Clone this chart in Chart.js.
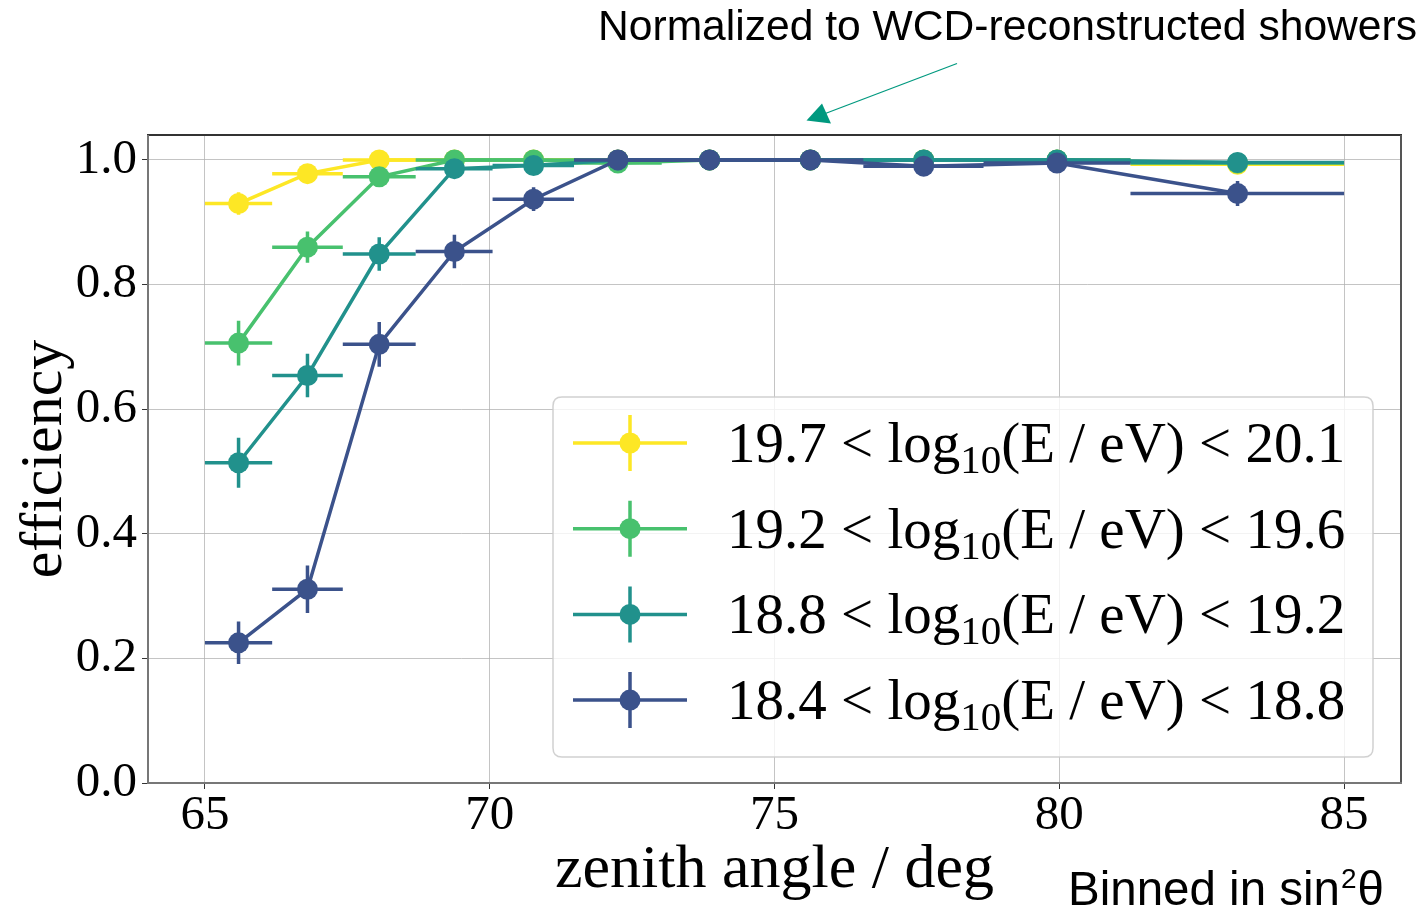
<!DOCTYPE html>
<html>
<head>
<meta charset="utf-8">
<script src="https://cdn.jsdelivr.net/npm/chart.js@4"></script>
<style>
  html, body { margin: 0; padding: 0; background: #ffffff; }
  #wrap { width: 1422px; height: 911px; position: relative; }
</style>
</head>
<body>
<div id="wrap"><canvas id="c" width="1422" height="911"></canvas></div>
<script>
// Zenith-angle bins (equal width in sin^2 theta), edges and centres in degrees
const binEdges   = [65.00, 66.18, 67.42, 68.70, 70.05, 71.48, 73.02, 74.70, 76.56, 78.67, 81.25, 85.00];
const binCenters = [65.59, 66.80, 68.06, 69.38, 70.77, 72.25, 73.86, 75.63, 77.62, 79.96, 83.13];

// Efficiency per energy bin
const eff_197_201 = [0.930, 0.978, 1.000, 1.000, 1.000, 1.000, 1.000, 1.000, 1.000, 1.000, 0.993];
const eff_192_196 = [0.706, 0.860, 0.973, 1.000, 1.000, 0.995, 1.000, 1.000, 1.000, 1.000, 0.995];
const eff_188_192 = [0.514, 0.654, 0.849, 0.986, 0.991, 1.000, 1.000, 1.000, 1.000, 1.000, 0.996];
const eff_184_188 = [0.225, 0.311, 0.704, 0.853, 0.937, 1.000, 1.000, 1.000, 0.990, 0.995, 0.946];

// Statistical uncertainties (half-lengths)
const err_197_201 = [0.018, 0.008, 0.003, 0, 0, 0, 0, 0, 0, 0, 0.004];
const err_192_196 = [0.036, 0.025, 0.012, 0.002, 0, 0.004, 0, 0, 0, 0, 0.004];
const err_188_192 = [0.040, 0.035, 0.027, 0.007, 0.005, 0, 0, 0, 0, 0, 0.004];
const err_184_188 = [0.034, 0.038, 0.036, 0.027, 0.019, 0, 0, 0, 0.005, 0.004, 0.020];

// Energy ranges (log10(E / eV)) and series colours (viridis)
const energyLow  = ['19.7', '19.2', '18.8', '18.4'];
const energyHigh = ['20.1', '19.6', '19.2', '18.8'];
const colors     = ['#fde725', '#48c16e', '#21918c', '#3b528b'];

// Axis ticks
const xTickValues = [65, 70, 75, 80, 85];
const yTickValues = [0.0, 0.2, 0.4, 0.6, 0.8, 1.0];

const seriesValues = [eff_197_201, eff_192_196, eff_188_192, eff_184_188];
const seriesErrors = [err_197_201, err_192_196, err_188_192, err_184_188];

const SERIF = '"Liberation Serif", "Times New Roman", serif';
const SANS  = '"Liberation Sans", Arial, sans-serif';

const datasets = seriesValues.map((vals, s) => ({
  label: energyLow[s] + ' < log10(E / eV) < ' + energyHigh[s],
  data: vals.map((v, i) => ({
    x: binCenters[i], y: v,
    xLo: binEdges[i], xHi: binEdges[i + 1],
    err: seriesErrors[s][i]
  })),
  borderColor: colors[s],
  backgroundColor: colors[s],
  borderWidth: 3.5,
  pointRadius: 10.5,
  pointHoverRadius: 10.5,
  pointBorderWidth: 0,
  tension: 0,
  fill: false,
  order: 4 - s,
  clip: false
}));

// Horizontal (bin width) and vertical (uncertainty) bars, drawn under each series
const errorBars = {
  id: 'errorBars',
  beforeDatasetDraw(chart, args) {
    const ds = chart.data.datasets[args.index];
    const xs = chart.scales.x, ys = chart.scales.y;
    const ctx = chart.ctx;
    ctx.save();
    ctx.strokeStyle = ds.borderColor;
    ctx.lineWidth = 3.5;
    ctx.lineCap = 'butt';
    ds.data.forEach(p => {
      const px = xs.getPixelForValue(p.x);
      const py = ys.getPixelForValue(p.y);
      ctx.beginPath();
      ctx.moveTo(xs.getPixelForValue(p.xLo), py);
      ctx.lineTo(xs.getPixelForValue(p.xHi), py);
      if (p.err > 0) {
        ctx.moveTo(px, ys.getPixelForValue(p.y - p.err));
        ctx.lineTo(px, ys.getPixelForValue(p.y + p.err));
      }
      ctx.stroke();
    });
    ctx.restore();
  }
};

// Axes frame on top of the data
const frame = {
  id: 'frame',
  afterDatasetsDraw(chart) {
    const { left, right, top, bottom } = chart.chartArea;
    const ctx = chart.ctx;
    ctx.save();
    ctx.lineWidth = 2;
    const seg = (c, x1, y1, x2, y2) => {
      ctx.strokeStyle = c; ctx.beginPath(); ctx.moveTo(x1, y1); ctx.lineTo(x2, y2); ctx.stroke();
    };
    seg('#333333', left - 1, top, right + 1, top);
    seg('#555555', right, top, right, bottom);
    seg('#777777', left, top, left, bottom + 1);
    seg('#777777', left - 1, bottom, right + 1, bottom);
    ctx.restore();
  }
};

// Axis titles, annotations and legend
const decorations = {
  id: 'decorations',
  afterDraw(chart) {
    const ctx = chart.ctx;
    const ca = chart.chartArea;
    ctx.save();
    ctx.fillStyle = '#000000';

    // axis titles
    ctx.font = '62px ' + SERIF;
    ctx.textAlign = 'center';
    ctx.textBaseline = 'alphabetic';
    ctx.fillText('zenith angle / deg', (ca.left + ca.right) / 2, 887);
    ctx.save();
    ctx.translate(61, (ca.top + ca.bottom) / 2);
    ctx.rotate(-Math.PI / 2);
    ctx.font = '60px ' + SERIF;
    ctx.fillText('efficiency', 0, 0);
    ctx.restore();

    // annotation text and arrow
    ctx.textAlign = 'left';
    ctx.font = '42.6px ' + SANS;
    ctx.fillText('Normalized to WCD-reconstructed showers', 598, 40);

    ctx.strokeStyle = '#00997f';
    ctx.fillStyle = '#00997f';
    ctx.lineWidth = 1.3;
    ctx.beginPath();
    ctx.moveTo(957, 63.5);
    ctx.lineTo(824, 114);
    ctx.stroke();
    ctx.beginPath();
    ctx.moveTo(806.5, 120.5);
    ctx.lineTo(822, 103.5);
    ctx.lineTo(831, 123.5);
    ctx.closePath();
    ctx.fill();

    // binning note
    ctx.fillStyle = '#000000';
    ctx.font = '47.5px ' + SANS;
    let bx = 1068;
    const bt = 'Binned in sin';
    ctx.fillText(bt, bx, 905);
    bx += ctx.measureText(bt).width;
    ctx.font = '28px ' + SANS;
    ctx.fillText('2', bx + 1, 888);
    bx += ctx.measureText('2').width + 2;
    ctx.font = '47.5px ' + SANS;
    ctx.fillText('\u03b8', bx, 905);

    // legend box
    const lx = 553, ly = 397, lw = 820, lh = 360, r = 9;
    ctx.beginPath();
    ctx.moveTo(lx + r, ly);
    ctx.lineTo(lx + lw - r, ly);
    ctx.quadraticCurveTo(lx + lw, ly, lx + lw, ly + r);
    ctx.lineTo(lx + lw, ly + lh - r);
    ctx.quadraticCurveTo(lx + lw, ly + lh, lx + lw - r, ly + lh);
    ctx.lineTo(lx + r, ly + lh);
    ctx.quadraticCurveTo(lx, ly + lh, lx, ly + lh - r);
    ctx.lineTo(lx, ly + r);
    ctx.quadraticCurveTo(lx, ly, lx + r, ly);
    ctx.closePath();
    ctx.fillStyle = 'rgba(255,255,255,0.8)';
    ctx.fill();
    ctx.strokeStyle = 'rgba(204,204,204,0.9)';
    ctx.lineWidth = 1.5;
    ctx.stroke();

    // legend entries
    for (let i = 0; i < energyLow.length; i++) {
      const cy = 443 + i * 85.7;
      const c = colors[i];
      ctx.strokeStyle = c;
      ctx.fillStyle = c;
      ctx.lineWidth = 3.5;
      ctx.beginPath();
      ctx.moveTo(573, cy); ctx.lineTo(687, cy);
      ctx.moveTo(630, cy - 28); ctx.lineTo(630, cy + 28);
      ctx.stroke();
      ctx.beginPath();
      ctx.arc(630, cy, 10.5, 0, Math.PI * 2);
      ctx.fill();

      ctx.fillStyle = '#000000';
      let tx = 727;
      const base = cy + 19;
      const p1 = energyLow[i] + ' < log';
      ctx.font = '57px ' + SERIF;
      ctx.fillText(p1, tx, base);
      tx += ctx.measureText(p1).width;
      ctx.font = '41px ' + SERIF;
      ctx.fillText('10', tx, base + 11);
      tx += ctx.measureText('10').width;
      const p2 = '(E / eV) < ' + energyHigh[i];
      ctx.font = '57px ' + SERIF;
      ctx.fillText(p2, tx, base);
    }
    ctx.restore();
  }
};

new Chart(document.getElementById('c'), {
  type: 'line',
  data: { datasets },
  options: {
    responsive: false,
    animation: false,
    devicePixelRatio: 1,
    layout: { padding: { top: 135, right: 21, bottom: 0, left: 0 } },
    plugins: { legend: { display: false }, tooltip: { enabled: false } },
    events: [],
    scales: {
      x: {
        type: 'linear',
        min: 64, max: 86,
        afterBuildTicks: s => { s.ticks = xTickValues.map(v => ({ value: v })); },
        afterFit: s => { s.height = 128; },
        ticks: {
          color: '#000000',
          font: { family: SERIF, size: 49, lineHeight: 1 },
          padding: 3,
          maxRotation: 0,
          autoSkip: false,
          callback: v => String(v)
        },
        grid: { color: 'rgba(176,176,176,0.75)', lineWidth: 1, tickLength: 6, tickColor: '#333333' },
        border: { display: false }
      },
      y: {
        type: 'linear',
        min: 0, max: 1.04,
        afterBuildTicks: s => { s.ticks = yTickValues.map(v => ({ value: v })); },
        afterFit: s => { s.width = 148; },
        ticks: {
          color: '#000000',
          font: { family: SERIF, size: 49, lineHeight: 1 },
          padding: 5,
          autoSkip: false,
          callback: v => Number(v).toFixed(1)
        },
        grid: { color: 'rgba(176,176,176,0.75)', lineWidth: 1, tickLength: 6, tickColor: '#333333' },
        border: { display: false }
      }
    }
  },
  plugins: [errorBars, frame, decorations]
});
</script>
</body>
</html>
